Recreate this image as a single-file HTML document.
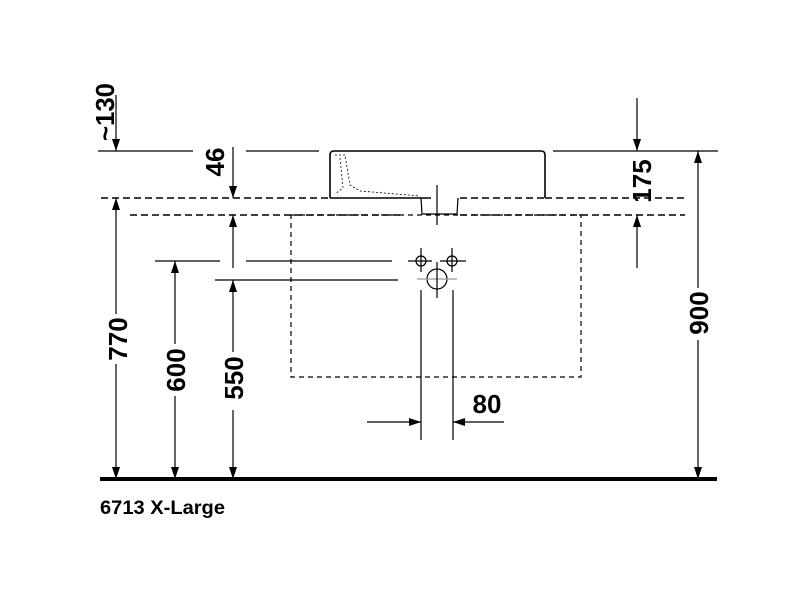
<!DOCTYPE html>
<html><head><style>body{margin:0;background:#fff}svg{display:block}</style></head><body>
<svg width="800" height="600" viewBox="0 0 800 600" xmlns="http://www.w3.org/2000/svg" font-family="Liberation Sans, sans-serif" font-weight="bold">
<defs>
<marker id="a" viewBox="0 0 12 8" refX="12" refY="4" markerWidth="12" markerHeight="8" markerUnits="userSpaceOnUse" orient="auto"><path d="M0,0 L12,4 L0,8 Z" fill="#000"/></marker>
</defs>
<g stroke="#000" stroke-width="1.2" fill="none">
<line x1="98" y1="151" x2="193" y2="151"/>
<line x1="246" y1="151" x2="319" y2="151"/>
<line x1="553" y1="151" x2="718" y2="151"/>
<path d="M330,198 L330,155 Q330,151 334,151 L541,151 Q545,151 545,155 L545,198" stroke-width="1.6"/>
<line x1="330" y1="198" x2="431" y2="198" stroke-width="1.6"/>
<path d="M421,198 L422,214 L457,214 L458,198" />
<path d="M335,155 L345,155 L350,185 L360,191 L420,196" stroke-dasharray="2,2" stroke-width="0.8"/>
<path d="M340,158 L343,188 L335,194" stroke-dasharray="2,2" stroke-width="0.8"/>
<line x1="437" y1="185" x2="437" y2="225"/>
<line x1="101" y1="198" x2="330" y2="198" stroke-dasharray="7,4" stroke-width="1.6"/>
<line x1="460" y1="198" x2="545" y2="198" stroke-dasharray="7,4" stroke-width="1.6"/>
<line x1="545" y1="198" x2="685" y2="198" stroke-dasharray="7,4" stroke-width="1.4"/>
<line x1="130" y1="215" x2="400" y2="215" stroke-dasharray="7,4" stroke-width="1.6"/>
<line x1="460" y1="215" x2="685" y2="215" stroke-dasharray="7,4" stroke-width="1.6"/>
<rect x="291" y="215" width="290" height="162" stroke-dasharray="5,4"/>
<line x1="408" y1="261" x2="432" y2="261"/>
<line x1="440" y1="261" x2="466" y2="261"/>
<circle cx="421" cy="261" r="5"/><line x1="421" y1="248" x2="421" y2="272"/>
<circle cx="452" cy="261" r="5"/><line x1="452" y1="248" x2="452" y2="272"/>
<circle cx="437" cy="279" r="10"/>
<line x1="417" y1="279" x2="457" y2="279" stroke="#999"/>
<line x1="437" y1="262" x2="437" y2="298"/>
<line x1="421" y1="290" x2="421" y2="440"/>
<line x1="453" y1="290" x2="453" y2="440"/>
<line x1="155" y1="261" x2="220" y2="261"/>
<line x1="246" y1="261" x2="392" y2="261"/>
<line x1="215" y1="280" x2="398" y2="280"/>
<line x1="116" y1="95" x2="116" y2="151" marker-end="url(#a)"/>
<line x1="233" y1="147" x2="233" y2="198" marker-end="url(#a)"/>
<line x1="233" y1="268" x2="233" y2="215" marker-end="url(#a)"/>
<line x1="637" y1="98" x2="637" y2="151" marker-end="url(#a)"/>
<line x1="637" y1="268" x2="637" y2="215" marker-end="url(#a)"/>
<line x1="116" y1="314" x2="116" y2="198" marker-end="url(#a)"/>
<line x1="116" y1="364" x2="116" y2="479" marker-end="url(#a)"/>
<line x1="175" y1="344" x2="175" y2="261" marker-end="url(#a)"/>
<line x1="175" y1="396" x2="175" y2="479" marker-end="url(#a)"/>
<line x1="233" y1="352" x2="233" y2="280" marker-end="url(#a)"/>
<line x1="233" y1="410" x2="233" y2="479" marker-end="url(#a)"/>
<line x1="698" y1="288" x2="698" y2="151" marker-end="url(#a)"/>
<line x1="698" y1="340" x2="698" y2="479" marker-end="url(#a)"/>
<line x1="367" y1="422" x2="421" y2="422" marker-end="url(#a)"/>
<line x1="504" y1="422" x2="453" y2="422" marker-end="url(#a)"/>
</g>
<line x1="100" y1="479" x2="717" y2="479" stroke="#000" stroke-width="4"/>
<g font-size="26" fill="#000" text-anchor="middle">
<text transform="translate(114,112) rotate(-90)" textLength="58" lengthAdjust="spacingAndGlyphs">~130</text>
<text transform="translate(224,162) rotate(-90)">46</text>
<text transform="translate(651,181) rotate(-90)">175</text>
<text transform="translate(127,339) rotate(-90)">770</text>
<text transform="translate(185,370) rotate(-90)">600</text>
<text transform="translate(243,378) rotate(-90)">550</text>
<text transform="translate(708,313) rotate(-90)">900</text>
<text x="487" y="413">80</text>
</g>
<text x="100" y="514" font-size="19" fill="#000" textLength="125" lengthAdjust="spacingAndGlyphs">6713 X-Large</text>
</svg>
</body></html>
